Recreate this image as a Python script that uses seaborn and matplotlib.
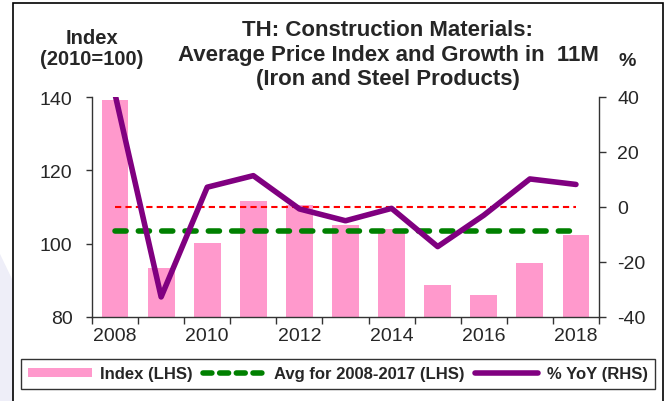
import numpy as np
import pandas as pd
import matplotlib.pyplot as plt
import seaborn as sns
from matplotlib.patches import Rectangle, Polygon
from matplotlib.lines import Line2D
from matplotlib.patches import Patch

sns.set_style('white')
plt.rcParams['font.family'] = ['Liberation Sans', 'DejaVu Sans']
plt.rcParams['axes.unicode_minus'] = False

# data
years = [2008, 2009, 2010, 2011, 2012, 2013, 2014, 2015, 2016, 2017, 2018]
index_vals = [139.3, 93.4, 100.1, 111.6, 110.5, 105.1, 104.0, 88.7, 86.1, 94.8, 102.5]
yoy_vals = [41.0, -32.7, 7.2, 11.4, -0.7, -5.0, -0.5, -14.4, -3.0, 10.2, 8.2]
avg_years = [2008, 2017]

avg_val = np.mean([v for y, v in zip(years, index_vals) if avg_years[0] <= y <= avg_years[1]])
df = pd.DataFrame({'year': years, 'index': index_vals, 'yoy': yoy_vals,
                   'avg': avg_val, 'zero': 0.0})

W, H = 669, 402
fig = plt.figure(figsize=(W / 100, H / 100), dpi=100)

# background decoration: outer frame and lavender corner
fig.patches.append(Polygon([(0, 1 - 255 / H), (13 / W, 1 - 282 / H), (13 / W, 0), (0, 0)],
                           closed=True, transform=fig.transFigure, facecolor='#EEEEF8',
                           edgecolor='none', zorder=0))
fig.patches.append(Rectangle((13 / W, -0.05), (663 - 13) / W, 1.05 - 4 / H,
                             transform=fig.transFigure, facecolor='none',
                             edgecolor='black', linewidth=1.2, zorder=1))

ax = fig.add_axes([92 / W, 1 - 318 / H, (599 - 92) / W, (318 - 98) / H])
ax.set_facecolor('none')

sns.barplot(data=df, x='year', y='index', native_scale=True, width=0.58,
            color='#FF99CC', saturation=1, edgecolor='none', ax=ax, zorder=1)
sns.lineplot(data=df, x='year', y='avg', color='#008000', linewidth=4, ax=ax, zorder=3)
ax.lines[-1].set_dashes([2.0, 2.2])
ax.lines[-1].set_dash_capstyle('round')
ax.set_ylim(80, 140)
ax.set_yticks([80, 100, 120, 140])
ax.set_xlim(2007.5, 2018.5)
ax.set_xticks(years[::2])
ax.set_xticks(np.arange(2007.5, 2018.6, 1), minor=True)
ax.tick_params(axis='x', which='major', length=0, labelsize=14, pad=7)
ax.tick_params(axis='x', which='minor', length=5, width=1, color='#333333', direction='out', bottom=True)
ax.tick_params(axis='y', length=4, width=1, color='#333333', direction='out', left=True,
               labelsize=14, pad=10)
ax.set_xlabel('')
ax.set_ylabel('')
for s in ['left', 'bottom']:
    ax.spines[s].set_color('#333333')
    ax.spines[s].set_linewidth(1)
ax.spines['top'].set_visible(False)
ax.spines['right'].set_visible(False)

ax2 = ax.twinx()
sns.lineplot(data=df, x='year', y='zero', color='#FF0000', linewidth=1.5, ax=ax2)
ax2.lines[-1].set_dashes([3, 2])
sns.lineplot(data=df, x='year', y='yoy', color='#800080', linewidth=4, ax=ax2)
ax2.set_ylim(-40, 40)
ax2.set_yticks([-40, -20, 0, 20, 40])
ax2.tick_params(axis='y', length=5, width=1, color='#333333', direction='out', right=True,
                labelsize=14, pad=8)
ax2.set_ylabel('')
ax2.spines['top'].set_visible(False)
ax2.spines['left'].set_visible(False)
ax2.spines['bottom'].set_visible(False)
ax2.spines['right'].set_color('#333333')
ax2.spines['right'].set_linewidth(1)
ax.set_zorder(ax2.get_zorder() - 1)

fig.text(388 / W, 1 - 55 / H,
         'TH: Construction Materials:\nAverage Price Index and Growth in  11M\n(Iron and Steel Products)',
         ha='center', va='center', fontsize=16, fontweight='bold', linespacing=1.22)
fig.text(92 / W, 1 - 49 / H, 'Index\n(2010=100)', ha='center', va='center',
         fontsize=14.5, fontweight='bold', linespacing=1.08)
fig.text(627 / W, 1 - 62 / H, '%', ha='center', va='center', fontsize=14, fontweight='bold')

handles = [Patch(facecolor='#FF99CC', edgecolor='none'),
           Line2D([], [], color='#008000', linewidth=4, dashes=[1.6, 1.4], dash_capstyle='round'),
           Line2D([], [], color='#800080', linewidth=4)]
labels = ['Index (LHS)', 'Avg for 2008-2017 (LHS)', '% YoY (RHS)']
leg = fig.legend(handles, labels, loc='center', bbox_to_anchor=(338 / W, 1 - 375 / H),
                 ncol=3, frameon=True, fancybox=False, handlelength=3.8, handleheight=0.5,
                 columnspacing=0.6, handletextpad=0.5, borderpad=0.45,
                 prop={'weight': 'bold', 'size': 12})
leg.get_frame().set_edgecolor('black')
leg.get_frame().set_linewidth(1)

fig.savefig('out.png', dpi=100)
